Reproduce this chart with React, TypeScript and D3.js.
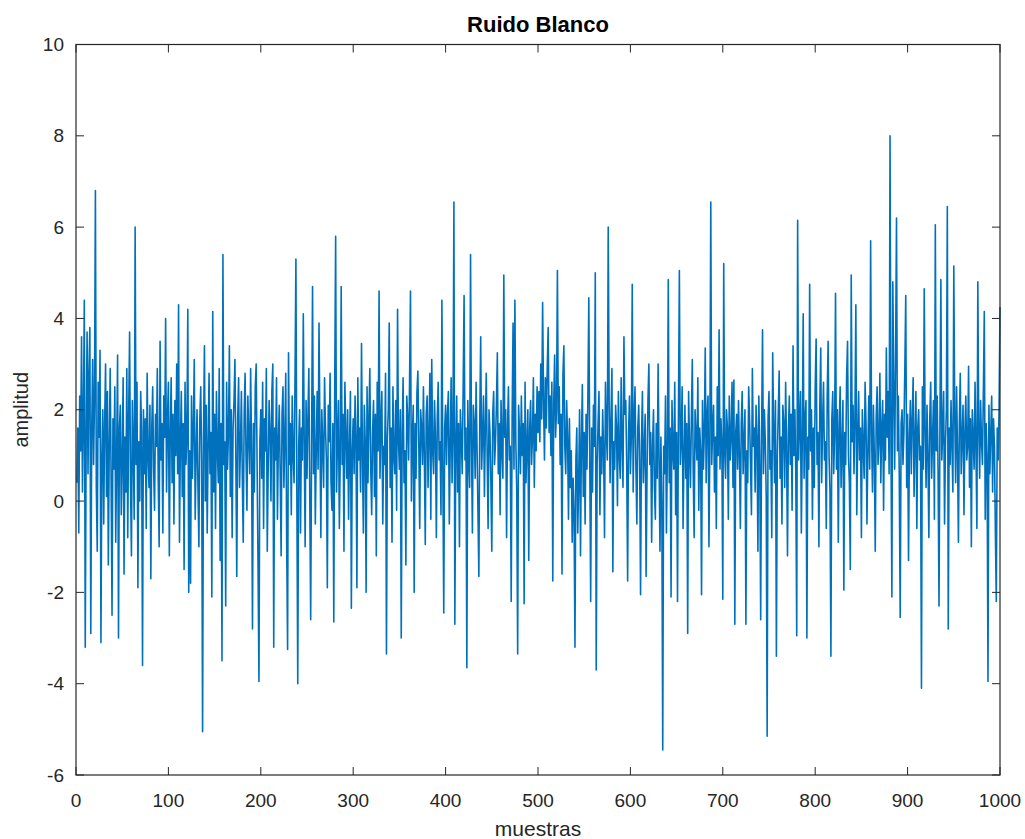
import * as d3 from "d3";

// amplitud por muestra (1..1000), en tramos de 100
const s0 = [0.4, 1.6, -0.7, 2.3, 1.1, 3.6, 0.2, 1.9, 4.4, -3.2, 1.3, 3.7, 0.6, 2.8, 3.8, -2.9, 1.5, 3.1, 0.8, 2.2, 6.8, 0.3, -1.1, 2.6, 1.4, 3.3, -3.1, 0.9, 2.0, -0.5, 1.7, 3.0, 0.1, 2.4, -1.4, 1.2, 2.9, 0.5, -2.5, 1.8, 0.7, 2.5, -0.9, 1.0, 3.2, -3.0, 1.6, 2.1, -0.3, 0.9, 2.7, -1.6, 1.4, 0.2, 2.9, -0.8, 1.9, 3.7, 0.4, -1.2, 2.2, 1.1, -0.4, 6.0, 0.8, 2.6, -1.9, 1.3, 0.0, 2.4, 1.5, -3.6, 2.0, 0.6, 1.8, -0.6, 2.8, 1.0, 0.3, 2.1, -1.7, 1.6, 2.5, 0.7, -0.2, 1.9, 1.2, 2.9, 0.5, -1.0, 3.5, 0.9, 1.7, -0.7, 2.3, 1.4, 4.0, 0.2, 1.8, 2.6];
const s1 = [-1.2, 1.5, 2.7, 0.4, 1.9, -0.5, 2.2, 1.0, 3.0, 0.6, 4.3, -0.9, 1.3, 2.4, 0.1, 1.7, -1.5, 2.6, 0.8, 1.4, 4.2, -2.0, 1.1, -1.8, 2.3, 0.5, 1.6, 3.1, -0.4, 1.0, 2.0, 0.3, -1.0, 1.8, 2.5, 0.9, -5.05, 1.4, 3.4, 0.0, 2.1, -0.7, 1.2, 2.8, 0.6, 1.5, -2.1, 4.15, 0.2, 1.9, -0.6, 2.4, 1.1, 0.4, 2.9, -1.3, 1.7, -3.5, 5.4, 0.8, 1.3, -2.3, 2.6, 0.7, 1.5, 3.4, 0.1, 2.0, -0.8, 1.6, 2.2, 3.1, 0.9, -1.65, 1.8, 2.7, 0.3, 1.2, 2.4, 0.5, -0.9, 1.9, 2.8, 1.0, -0.2, 2.3, 1.4, 0.6, 2.9, 1.1, -2.8, 1.7, 0.2, 2.5, 3.0, 0.8, -1.4, -3.95, 1.3, 2.0];
const s2 = [0.5, 2.6, -0.6, 1.8, 1.1, 2.9, -1.1, 0.7, 2.2, 1.5, 0.0, 2.4, 3.0, -3.2, 1.6, 0.9, 2.7, -0.4, 1.3, 2.1, 0.6, -1.2, 1.9, 2.5, 0.3, 1.4, 2.8, -0.9, -3.25, 3.25, 0.8, 1.7, -0.3, 2.3, 1.0, 0.4, 2.6, 5.3, 0.2, -4.0, 1.2, 2.0, -0.7, 1.6, 0.9, 4.1, 1.3, -1.0, 2.2, 0.5, 1.8, 2.9, 0.1, -2.6, 1.4, 4.7, 0.6, 2.3, -0.5, 1.1, 2.4, 0.7, 3.9, 1.5, -0.8, 2.0, 1.2, 0.3, 2.7, 1.6, 0.9, -1.9, 2.1, 1.3, 2.8, 0.4, -0.2, 1.7, -2.65, 2.5, 5.8, 0.2, 1.4, 2.2, -0.6, 1.0, 4.7, 0.8, 1.9, -1.1, 2.6, 1.5, 0.5, 2.0, -0.4, 1.2, 2.4, -2.35, 1.1, 1.8];
const s3 = [0.6, 2.3, 1.4, -1.9, 2.7, 0.9, 1.6, 0.2, 3.45, 1.0, -0.7, 2.1, 1.3, -2.0, 2.5, 0.4, 1.8, 2.9, 0.7, -0.3, 1.5, 2.2, 0.1, 1.9, -1.2, 2.6, 1.1, 4.6, 0.5, 1.7, 2.4, -0.5, 1.2, 0.8, 2.8, -3.35, 1.4, 2.0, 3.9, 0.3, 1.6, -0.9, 2.5, 1.0, 0.6, 2.2, -0.2, 4.2, 1.3, 0.7, 2.0, -3.0, 1.5, 2.7, 0.4, 1.1, -1.4, 2.3, 1.8, 0.9, 2.6, 4.6, 0.0, 1.4, 2.1, -2.0, 1.7, 0.5, 2.4, 2.85, 1.2, -0.6, 2.0, 1.6, 0.8, 2.5, 1.0, -0.95, 1.9, 2.3, 0.3, 1.5, 2.8, -0.4, 3.1, 1.1, 0.6, 2.2, 1.4, -0.8, 1.8, 2.6, 0.9, 1.3, -0.3, 4.4, 0.7, -2.45, 1.6, 2.1];
const s4 = [0.8, 1.9, 2.4, -0.5, 1.2, 2.7, 0.4, 1.5, 6.55, -2.7, 1.1, 2.3, 0.2, 1.7, -1.0, 2.0, 1.4, 0.6, 2.5, 4.5, 0.9, 1.6, -3.65, 2.2, 1.0, 0.3, 5.4, 1.3, -0.7, 2.1, 1.7, 0.5, 2.6, 1.2, -0.2, -1.65, 1.8, 3.6, 0.7, 1.4, 2.3, 0.1, 1.6, 2.8, 1.0, -0.6, 2.0, 1.5, 0.4, -1.1, 1.9, 2.4, 0.8, 1.3, 2.1, 3.25, 0.6, 1.7, -0.3, 2.2, 1.1, 0.5, 4.95, 1.4, 2.0, -0.8, 1.6, 2.5, 0.9, 1.2, -2.2, 1.8, 3.9, 0.7, 4.4, 1.3, 0.2, -3.35, 2.1, 1.5, 0.6, 2.3, 1.0, 1.7, -2.25, 2.6, 0.4, 1.2, 2.0, -1.3, 1.6, 2.2, 0.8, 1.4, 2.7, 0.3, 1.9, 1.1, 2.5, 1.5];
const s5 = [2.4, 1.3, 3.0, 1.8, 4.35, 2.2, 0.9, 2.7, 1.6, 2.9, 3.8, 1.5, 2.3, 1.0, 2.6, -1.75, 2.1, 3.2, 1.4, 2.0, 5.05, 1.7, 2.5, 0.8, 1.9, -1.6, 2.8, 3.4, 1.2, 0.6, 2.2, 1.4, -0.4, 1.8, 0.3, 1.1, -0.9, 0.5, -0.2, -3.2, 0.9, 1.6, -0.7, 0.4, 2.0, -1.2, 1.3, 2.55, 0.1, 1.5, -0.5, 1.9, 0.7, 2.3, 4.45, 1.0, -2.2, 1.6, 0.2, 2.1, 1.2, 5.0, -3.7, 0.8, 1.7, 2.4, -0.3, 1.4, 0.6, 2.0, 1.1, -0.8, 2.6, 1.5, 0.9, 6.0, 2.2, 0.4, 1.8, 2.9, -1.55, 1.3, 0.7, 2.1, 1.6, -0.1, 2.4, 1.0, 0.5, 2.7, 1.2, 0.3, 3.6, 1.9, 2.2, 0.8, -1.75, 1.5, 2.3, 0.6];
const s6 = [1.4, 4.75, 0.2, 1.8, 2.5, 0.7, -0.5, 1.6, 2.1, 0.9, -2.05, 1.3, 2.4, 0.4, 1.1, 1.9, -1.65, 0.6, 2.2, 3.0, 0.8, 1.5, -0.9, 1.2, 2.0, 0.3, -0.4, 1.7, 0.5, 3.0, 0.9, -1.1, 1.4, 0.0, -5.45, 1.2, 0.6, 2.3, -0.7, 1.0, 4.85, 0.4, 1.6, -2.1, 2.2, 1.1, 0.7, 2.6, -0.3, 1.5, -2.2, 1.9, 5.05, 0.8, 1.3, 2.5, -0.6, 1.0, 2.1, 0.5, 1.7, -2.9, 2.4, 1.2, 0.3, 1.8, 3.1, 0.6, -0.8, 2.0, 1.4, 0.9, 2.7, -0.2, 1.6, 1.1, -2.05, 2.2, 0.7, 1.5, 3.35, 0.4, 1.9, 2.3, -1.0, 1.3, 6.55, 0.8, 1.6, 2.1, 0.2, 1.4, -0.6, 2.5, 1.0, 3.75, 0.7, 1.8, 1.2, -2.15];
const s7 = [5.2, 1.1, 0.5, 2.0, 1.6, -0.4, 2.3, 0.9, 1.4, 2.6, 0.3, 2.65, -2.7, 1.5, 1.9, 0.7, 2.2, 1.0, -0.6, 1.7, 2.4, 0.6, 1.3, 2.0, -2.7, 1.1, 0.4, 2.5, 1.8, 0.8, -0.3, 2.9, 1.2, 1.6, 0.2, 2.1, 1.4, -1.1, 2.3, 0.9, -2.6, 1.5, 3.75, 0.6, 2.0, 1.3, 0.1, -5.15, 1.8, 2.4, 0.7, 1.1, -0.8, 3.25, 1.6, 0.4, 2.2, -3.4, 1.0, 1.9, 2.85, 0.5, 1.4, -0.5, 2.1, 1.7, 0.3, 2.6, 1.2, -1.2, 1.5, 2.3, 0.8, 1.9, -0.2, 3.4, 1.0, 2.0, 0.6, -2.95, 6.15, 0.9, 1.7, 2.4, -0.7, 1.3, 4.1, 0.5, 1.8, 2.2, -3.0, 1.4, 0.7, 4.75, 1.1, 2.0, -0.4, 1.6, 0.3, 2.5];
const s8 = [3.55, 0.8, 1.5, -1.0, 2.1, 3.35, 0.4, 1.7, 2.6, 0.9, 1.3, -0.6, 2.3, 3.5, 1.0, 0.2, -3.4, 1.8, 2.4, 0.6, 1.4, 4.55, 0.7, 2.0, -0.9, 1.6, 2.5, 0.3, 1.2, 2.2, -1.95, 1.5, 0.8, 2.7, 3.5, 1.0, 0.4, -1.5, 4.95, 1.3, 2.1, 0.6, 1.8, 4.3, -0.3, 1.4, 2.4, 0.9, 1.6, -0.8, 2.0, 1.2, 0.5, 2.6, 1.7, -0.5, 1.1, 2.3, 0.7, 5.7, 1.5, 0.2, 2.1, 1.0, -1.1, 1.8, 2.5, 0.8, 1.3, 2.8, 0.4, 1.6, 2.2, -0.2, 1.9, 0.9, 3.35, 1.4, 2.4, 0.6, 8.0, 1.2, -2.1, 4.8, 2.6, 0.7, 3.2, 6.2, 1.1, 2.3, 0.5, -2.55, 1.7, 2.0, 0.8, 1.5, 2.9, 4.5, 0.3, 1.9];
const s9 = [-1.3, 1.4, 2.2, 0.6, 1.8, 2.7, 0.1, 1.3, 2.4, -0.6, 1.6, 2.0, 0.9, 1.2, -4.1, 2.5, 0.7, 4.65, 1.5, 0.3, 2.1, 1.0, -0.8, 1.8, 2.6, 0.5, 1.4, 2.2, -0.4, 6.05, 1.1, 2.3, 0.6, -2.3, 1.7, 4.85, 0.9, 1.5, 2.4, -0.5, 1.3, 2.0, 6.45, -2.8, 1.6, 0.8, 2.2, 1.2, 0.2, 5.15, 1.9, 0.4, 2.5, 1.1, -0.9, 1.7, 2.8, 0.6, 1.4, 2.1, -0.3, 1.5, 2.3, 0.9, 1.2, 2.95, 0.3, 1.8, -1.0, 2.0, 1.4, 0.7, 2.6, 1.1, -0.6, 4.8, 1.6, 0.5, 2.2, 1.3, 0.8, 2.4, 4.15, -0.4, 1.7, 1.0, -3.95, 2.1, 0.6, 1.5, 2.3, 0.2, 1.8, 1.2, -0.7, -2.2, 1.6, 0.9, 2.0, 4.25];

const amplitud = [...s0, ...s1, ...s2, ...s3, ...s4, ...s5, ...s6, ...s7, ...s8, ...s9];

const xTicks = [0, 100, 200, 300, 400, 500, 600, 700, 800, 900, 1000];
const yTicks = [-6, -4, -2, 0, 2, 4, 6, 8, 10];

const W = 1025;
const H = 839;
const margin = { top: 44.5, right: 25, bottom: 64, left: 76 };
const font = "'Liberation Sans', Arial, Helvetica, sans-serif";
const axisColor = "#262626";
const tickLen = 8;

export default function App() {
  const x = d3.scaleLinear().domain([0, 1000]).range([margin.left, W - margin.right]);
  const y = d3.scaleLinear().domain([-6, 10]).range([H - margin.bottom, margin.top]);

  const line = d3
    .line<number>()
    .x((_, i) => x(i + 1))
    .y((d) => y(d));

  const [x0, x1] = x.range();
  const [y0, y1] = y.range();

  return (
    <svg
      width={W}
      height={H}
      style={{ position: "absolute", left: 0, top: 0, background: "#fff" }}
      fontFamily={font}
    >
      <path d={line(amplitud) ?? ""} fill="none" stroke="#0072BD" strokeWidth={1.6} strokeLinejoin="round" />

      {/* caja */}
      <rect x={x0} y={y1} width={x1 - x0} height={y0 - y1} fill="none" stroke={axisColor} strokeWidth={1.2} />

      {/* ticks x, abajo y arriba */}
      {xTicks.map((t) => (
        <g key={"x" + t}>
          <line x1={x(t)} x2={x(t)} y1={y0} y2={y0 - tickLen} stroke={axisColor} />
          <line x1={x(t)} x2={x(t)} y1={y1} y2={y1 + tickLen} stroke={axisColor} />
          <text x={x(t)} y={y0 + 32} textAnchor="middle" fontSize={19} fill={axisColor}>
            {t}
          </text>
        </g>
      ))}

      {/* ticks y, izquierda y derecha */}
      {yTicks.map((t) => (
        <g key={"y" + t}>
          <line x1={x0} x2={x0 + tickLen} y1={y(t)} y2={y(t)} stroke={axisColor} />
          <line x1={x1} x2={x1 - tickLen} y1={y(t)} y2={y(t)} stroke={axisColor} />
          <text x={x0 - 12} y={y(t)} dy="0.35em" textAnchor="end" fontSize={19} fill={axisColor}>
            {t}
          </text>
        </g>
      ))}

      <text x={(x0 + x1) / 2} y={32} textAnchor="middle" fontSize={22} fontWeight="bold" fill="#000">
        Ruido Blanco
      </text>
      <text x={(x0 + x1) / 2} y={836} textAnchor="middle" fontSize={21} fill={axisColor}>
        muestras
      </text>
      <text
        transform={`translate(28,${(y0 + y1) / 2}) rotate(-90)`}
        textAnchor="middle"
        fontSize={20}
        fill={axisColor}
      >
        amplitud
      </text>
    </svg>
  );
}
